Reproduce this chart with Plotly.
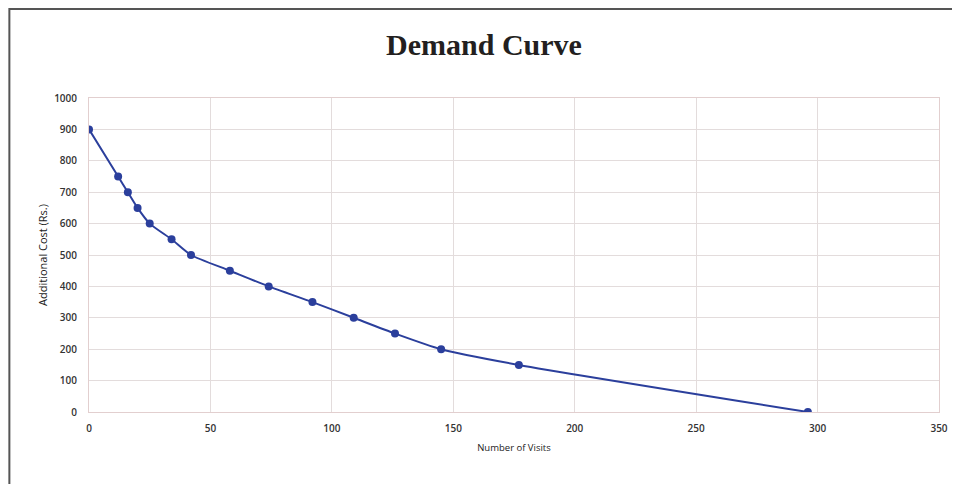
import plotly.graph_objects as go

visits = [0, 12, 16, 20, 25, 34, 42, 58, 74, 92, 109, 126, 145, 177, 296]
cost = [900, 750, 700, 650, 600, 550, 500, 450, 400, 350, 300, 250, 200, 150, 0]

x_ticks = [0, 50, 100, 150, 200, 250, 300, 350]
y_ticks = [0, 100, 200, 300, 400, 500, 600, 700, 800, 900, 1000]

fig = go.Figure()
fig.add_trace(go.Scatter(
    x=visits, y=cost, mode="lines+markers",
    line=dict(color="#2b3f9c", width=2, shape="spline", smoothing=0.6),
    marker=dict(color="#2b3f9c", size=8),
    showlegend=False,
))

# page has 8px body margin; figure sized to fit inside 960x484 window
W, H = 952, 476
L, R, T, B = 81, 17, 90, 72
pw = W - L - R
ph = H - T - B

sans = "Open Sans, DejaVu Sans, sans-serif"

fig.update_layout(
    width=W, height=H,
    margin=dict(l=L, r=R, t=T, b=B),
    paper_bgcolor="white", plot_bgcolor="white",
    title=dict(text="<b>Demand Curve</b>", x=0.5, xanchor="center",
               y=1 - 36 / H, yanchor="middle",
               font=dict(family="Liberation Serif, DejaVu Serif, serif", size=30, color="#231f20")),
    xaxis=dict(range=[0, 350], tickvals=x_ticks, ticktext=[str(v) for v in x_ticks],
               showgrid=True, gridcolor="#e3dcdc", gridwidth=1,
               showline=True, linecolor="#e2cfcf", linewidth=1, mirror=True,
               zeroline=False, ticks="outside", ticklen=7, tickcolor="rgba(0,0,0,0)",
               tickfont=dict(family=sans, size=10, color="#333333", weight=600),
               title=dict(text="Number of Visits", standoff=10,
                          font=dict(family=sans, size=9.5, color="#222222", weight=500))),
    yaxis=dict(range=[0, 1000], tickvals=y_ticks, ticktext=[str(v) for v in y_ticks],
               showgrid=True, gridcolor="#e3dcdc", gridwidth=1,
               showline=True, linecolor="#e2cfcf", linewidth=1, mirror=True,
               zeroline=False, ticks="outside", ticklen=9, tickcolor="rgba(0,0,0,0)",
               tickfont=dict(family=sans, size=10, color="#333333", weight=600),
               title=dict(text="Additional Cost (Rs.)", standoff=4,
                          font=dict(family=sans, size=11, color="#222222", weight=500))),
)

# outer frame (top and left visible, right/bottom beyond the image)
fig.add_shape(type="rect", xref="paper", yref="paper",
              x0=(1 - L) / pw, x1=(W + 10 - L) / pw,
              y0=(H - B - (H + 10)) / ph, y1=(H - B - 1) / ph,
              line=dict(color="#555555", width=2), fillcolor="rgba(0,0,0,0)", layer="above")

fig.write_html("out.html")
